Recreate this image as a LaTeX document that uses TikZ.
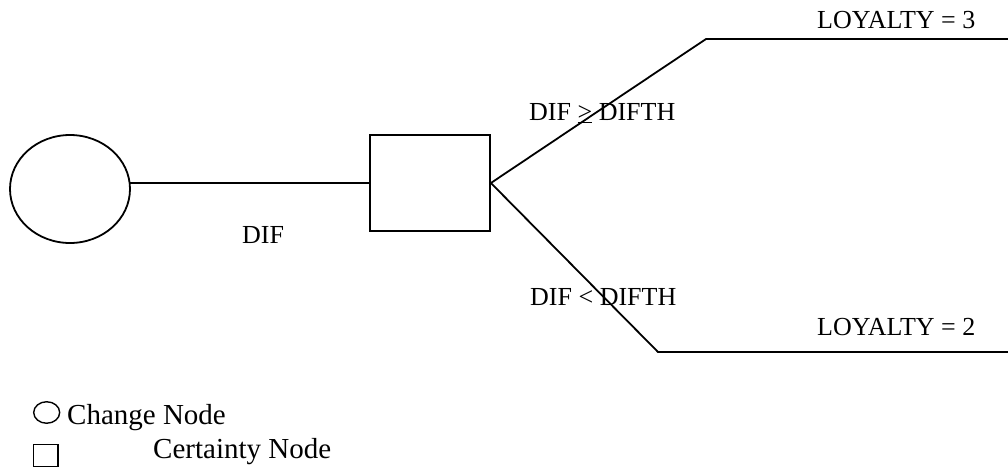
\documentclass[tikz,border=0pt]{standalone}
\usepackage{fontspec}
\setmainfont{Liberation Serif}
\usetikzlibrary{shapes.geometric}
\tikzset{
  ln/.style={line width=1.8pt},
  lbl/.style={anchor=base west, inner sep=0pt, font=\fontsize{26}{30}\selectfont},
  leg/.style={anchor=base west, inner sep=0pt, font=\fontsize{29}{33}\selectfont},
  chancebox/.style={draw, ln, ellipse, inner sep=0pt},
  certbox/.style={draw, ln, rectangle, inner sep=0pt},
}
\begin{document}
\begin{tikzpicture}[x=1pt,y=-1pt]
\useasboundingbox (0,0) rectangle (1008,468);
% main nodes
\node[chancebox, minimum width=120pt, minimum height=108pt] (chance) at (70,189) {};
\node[certbox, minimum width=120pt, minimum height=96pt] (cert) at (430,183) {};
\coordinate (up) at (706,39);
\coordinate (upend) at (1008,39);
\coordinate (lo) at (658,352);
\coordinate (loend) at (1008,352);
\coordinate (cin) at (130,183);
% connectors
\draw[ln] (cin) -- (cert.west);
\draw[ln] (cert.east) -- (up) -- (upend);
\draw[ln] (cert.east) -- (lo) -- (loend);
% labels
\node[lbl] (l3) at (817,29) {LOYALTY = 3};
\node[lbl] (l2) at (817,335) {LOYALTY = 2};
\node[lbl] (ge) at (529,121) {DIF \underline{>} DIFTH};
\node[lbl] (lt) at (530,305) {DIF < DIFTH};
\node[lbl] (dif) at (242,243) {DIF};
% legend
\node[chancebox, line width=1.4pt, minimum width=26pt, minimum height=21.5pt] (legc) at (46.7,412.5) {};
\node[leg] (legct) at (67,424.3) {Change Node};
\node[certbox, line width=1.4pt, minimum width=24.5pt, minimum height=22pt] (legs) at (45.8,455.5) {};
\node[leg] (legst) at (153,458.3) {Certainty Node};
\end{tikzpicture}
\end{document}
